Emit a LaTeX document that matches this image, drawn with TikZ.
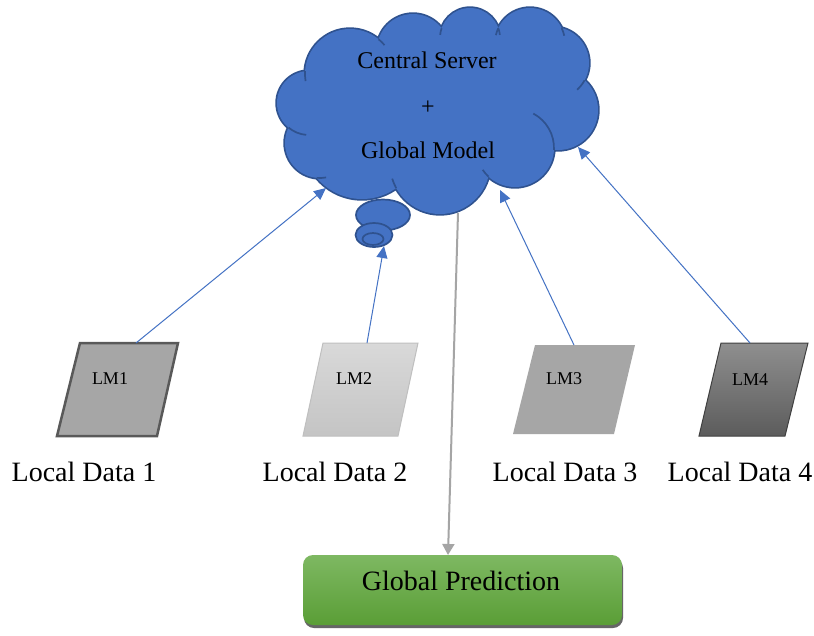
\documentclass[tikz,border=0pt]{standalone}
\usepackage{fontspec}
\setmainfont{Liberation Serif}
\usetikzlibrary{shapes.geometric,arrows.meta,shadows}
\definecolor{cloudfill}{HTML}{4472C4}
\definecolor{clouddraw}{HTML}{2F528F}
\definecolor{bluearrow}{HTML}{4472C4}
\definecolor{grayarrow}{HTML}{A5A5A5}
\definecolor{greentop}{HTML}{7EB862}
\definecolor{greenbot}{HTML}{5A9E36}
\tikzset{
  bubble/.style={draw=clouddraw, fill=cloudfill, line width=1.7pt},
  tick/.style={draw=clouddraw, line width=1.7pt},
  upflow/.style={draw=bluearrow, line width=1pt, -{Triangle[length=12pt,width=11pt]}},
  downflow/.style={draw=grayarrow, line width=2pt, -{Triangle[length=11pt,width=12pt]}},
  lmtext/.style={font=\fontsize{18}{20}\selectfont, anchor=base},
  datatext/.style={font=\fontsize{28}{30}\selectfont, anchor=base},
  servertext/.style={font=\fontsize{24}{26}\selectfont, anchor=base},
}
\begin{document}
\begin{tikzpicture}[x=1pt,y=-1pt]
\useasboundingbox (0,0) rectangle (814,635);
\fill[white] (0,0) rectangle (814,635);

% thought bubble (behind cloud)
\path[bubble] (383,215) ellipse[x radius=27, y radius=15.5];

% cloud: union of circles, outline then fill
\path[draw=clouddraw, fill=cloudfill, line width=3.4pt]
 (309,103) circle[radius=32]
 (320,143) circle[radius=35]
 (362,140) circle[radius=59]
 (440,164) circle[radius=50]
 (515,148) circle[radius=39]
 (558,110) circle[radius=40]
 (553,63) circle[radius=36]
 (530,43) circle[radius=35]
 (470,38) circle[radius=30]
 (413,50) circle[radius=36]
 (350,74) circle[radius=45];
\path[fill=cloudfill]
 (309,103) circle[radius=32]
 (320,143) circle[radius=35]
 (362,140) circle[radius=59]
 (440,164) circle[radius=50]
 (515,148) circle[radius=39]
 (558,110) circle[radius=40]
 (553,63) circle[radius=36]
 (530,43) circle[radius=35]
 (470,38) circle[radius=30]
 (413,50) circle[radius=36]
 (350,74) circle[radius=45];
\path[fill=cloudfill] (309,103)--(320,143)--(362,140)--(440,164)--(515,148)--(558,110)
 --(553,63)--(530,43)--(470,38)--(413,50)--(350,74)--cycle;
% inner arcs of the cloud
\path[tick] (350,74) ++(183.6:45) arc[start angle=183.6, end angle=171, radius=45];
\path[tick] (309,103) ++(129.7:32) arc[start angle=129.7, end angle=95, radius=32];
\path[tick] (320,143) ++(95.4:35) arc[start angle=95.4, end angle=80, radius=35];
\path[tick] (440,164) ++(151.2:50) arc[start angle=151.2, end angle=163, radius=50];
\path[tick] (515,148) ++(132.9:39) arc[start angle=132.9, end angle=146, radius=39];
\path[tick] (515,148) ++(2.6:39) arc[start angle=2.6, end angle=-62, radius=39];
\path[tick] (553,63) ++(28.6:36) arc[start angle=28.6, end angle=48, radius=36];
\path[tick] (530,43) ++(-25.2:35) arc[start angle=-25.2, end angle=-12, radius=35];
\path[tick] (470,38) ++(-19.3:30) arc[start angle=-19.3, end angle=-6, radius=30];
\path[tick] (530,43) ++(205:35) arc[start angle=205, end angle=193, radius=35];
\path[tick] (470,38) ++(199:30) arc[start angle=199, end angle=186, radius=30];
\path[tick] (350,74) ++(-50.5:45) arc[start angle=-50.5, end angle=-40, radius=45];
\coordinate (server) at (437,110);

% smaller thought bubbles
\path[bubble] (374,235) ellipse[x radius=18.5, y radius=12];
\path[bubble] (373,239) ellipse[x radius=10.5, y radius=6];

\node[servertext] (t1) at (427,68) {Central Server};
\node[servertext] (t2) at (428,114) {+};
\node[servertext] (t3) at (428,158) {Global Model};

% parallelograms
\path[fill=black!35, draw=black!65, line width=2.5pt, line join=miter]
  (80,343) -- (178,343) -- (157,436) -- (57,436) -- cycle;
\path[top color=black!15, bottom color=black!23, draw=black!25, line width=1pt]
  (323,343) -- (418,343) -- (398,436) -- (303,436) -- cycle;
\path[fill=black!35]
  (535,345) -- (635,345) -- (614,434) -- (513,434) -- cycle;
\path[top color=black!44, bottom color=black!64, draw=black!75, line width=1pt]
  (721,343) -- (808,343) -- (785,436) -- (699,436) -- cycle;

\node[lmtext] (lm1) at (110,384) {LM1};
\node[lmtext] (lm2) at (354,384) {LM2};
\node[lmtext] (lm3) at (564,384) {LM3};
\node[lmtext] (lm4) at (750,385) {LM4};

\node[datatext] (d1) at (84,481) {Local Data 1};
\node[datatext] (d2) at (335,481) {Local Data 2};
\node[datatext] (d3) at (565,481) {Local Data 3};
\node[datatext] (d4) at (740,481) {Local Data 4};

% prediction box
\node[rounded corners=10pt, minimum width=319pt, minimum height=70pt, inner sep=0pt,
      top color=greentop, bottom color=greenbot,
      drop shadow={shadow xshift=1pt, shadow yshift=-3pt, fill=black!60, opacity=1}] (pred) at (462.5,590) {};
\node[datatext] (pt) at (461,590) {Global Prediction};

% connector end points
\coordinate (p1) at (136,343);
\coordinate (p2) at (367,343);
\coordinate (p3) at (574,345);
\coordinate (p4) at (750,343);
\coordinate (s1) at (326,188);
\coordinate (s2) at (384,246);
\coordinate (s3) at (500,190);
\coordinate (s4) at (578,147);
\coordinate (s0) at (458,213);
\coordinate (q0) at (448,555);

\draw[upflow] (p1) -- (s1);
\draw[upflow] (p2) -- (s2);
\draw[upflow] (p3) -- (s3);
\draw[upflow] (p4) -- (s4);
\draw[downflow] (s0) -- (q0);
\end{tikzpicture}
\end{document}
